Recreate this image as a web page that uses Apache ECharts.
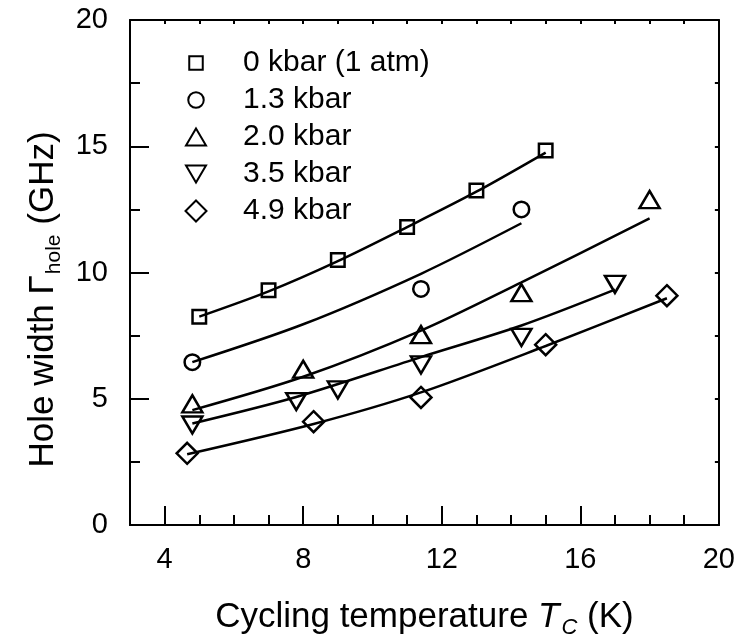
<!DOCTYPE html>
<html>
<head>
<meta charset="utf-8">
<script src="https://cdn.jsdelivr.net/npm/echarts@6/dist/echarts.min.js"></script>
<style>html,body{margin:0;padding:0;background:#fff;}#c{width:738px;height:644px;}</style>
</head>
<body>
<div id="c"></div>
<script>
// ---- data ----
const seriesNames = ['0 kbar (1 atm)', '1.3 kbar', '2.0 kbar', '3.5 kbar', '4.9 kbar'];

const pts0kbar = [[5.0, 8.25], [7.0, 9.3], [9.0, 10.5], [11.0, 11.8], [13.0, 13.25], [15.0, 14.83]];
const pts13kbar = [[4.8, 6.45], [11.4, 9.35], [14.3, 12.5]];
const pts20kbar = [[4.8, 4.8], [8.0, 6.17], [11.4, 7.54], [14.3, 9.2], [18.0, 12.89]];
const pts35kbar = [[4.8, 3.96], [7.8, 4.89], [9.0, 5.35], [11.4, 6.34], [14.3, 7.43], [17.0, 9.53]];
const pts49kbar = [[4.65, 2.84], [8.3, 4.09], [11.4, 5.05], [15.0, 7.14], [18.5, 9.08]];

const fit0kbar = [[5.0, 8.25], [7.0, 9.25], [9.0, 10.45], [11.0, 11.8], [13.0, 13.2], [15.0, 14.75]];
const fit13kbar = [[4.8, 6.45], [8.0, 7.95], [11.4, 9.95], [14.3, 11.95]];
const fit20kbar = [[4.8, 4.55], [8.0, 5.87], [11.4, 7.7], [14.3, 9.61], [18.0, 12.14]];
const fit35kbar = [[4.8, 4.02], [7.8, 5.07], [11.4, 6.65], [14.3, 7.9], [17.0, 9.32]];
const fit49kbar = [[4.65, 2.8], [8.3, 4.0], [11.4, 5.25], [15.0, 7.09], [18.5, 8.98]];

const xMajorTicks = [4, 8, 12, 16, 20];
const xRange = [3, 20];
const yRange = [0, 20];

// ---- styling ----
const FONT = "'Liberation Sans', Arial, sans-serif";
const BLACK = '#000';
const markerDefs = [
  { symbol: 'rect', size: 13.5 },
  { symbol: 'circle', size: 15.5 },
  { symbol: 'triangle', size: [20, 17] },
  { symbol: 'path://M0,0L20,0L10,17Z', size: [20, 17] },
  { symbol: 'diamond', size: [21, 21] }
];
const ptsAll = [pts0kbar, pts13kbar, pts20kbar, pts35kbar, pts49kbar];
const fitAll = [fit0kbar, fit13kbar, fit20kbar, fit35kbar, fit49kbar];
const legendRowCenters = [63, 100, 137, 174, 211];

const series = [];
fitAll.forEach((d, i) => {
  series.push({
    name: seriesNames[i] + ' fit', type: 'line', data: d, smooth: 0.3,
    symbol: 'none', silent: true, z: 2,
    lineStyle: { color: BLACK, width: 2.5 }
  });
});
ptsAll.forEach((d, i) => {
  series.push({
    name: seriesNames[i], type: 'scatter', data: d, z: 3, silent: true,
    symbol: markerDefs[i].symbol, symbolSize: markerDefs[i].size,
    itemStyle: { color: 'rgba(0,0,0,0)', borderColor: BLACK, borderWidth: 2.5, opacity: 1 },
    emphasis: { disabled: true }
  });
});

const legends = seriesNames.map((n, i) => {
  const sz = markerDefs[i].size;
  const w = Array.isArray(sz) ? sz[0] : sz;
  const h = Array.isArray(sz) ? sz[1] : sz;
  return {
    data: [n], orient: 'vertical', padding: 0,
    left: 195 - w / 2, top: legendRowCenters[i] - 16,
    itemWidth: w, itemHeight: h, selectedMode: false,
    textStyle: { fontFamily: FONT, fontSize: 30, lineHeight: 32, color: BLACK,
                 padding: [0, 0, 0, 242 - (195 + w / 2) - 5] }
  };
});

const axLine = { show: true, lineStyle: { color: BLACK, width: 2 } };

const option = {
  backgroundColor: '#fff',
  animation: false,
  grid: { left: 130, right: 18, top: 20, bottom: 117, containLabel: false },
  legend: legends,
  xAxis: [
    {
      type: 'value', position: 'bottom', min: xRange[0], max: xRange[1],
      axisLine: axLine,
      axisTick: { show: true, inside: true, length: 19, customValues: xMajorTicks, lineStyle: { color: BLACK, width: 2 } },
      axisLabel: { customValues: xMajorTicks, fontFamily: FONT, fontSize: 29, color: BLACK, margin: 20 },
      splitLine: { show: false },
      name: '{n|Cycling temperature }{i|T}{s|C}{n| (K)}',
      nameLocation: 'middle', nameGap: 70,
      nameTextStyle: {
        fontFamily: FONT, color: BLACK,
        rich: {
          n: { fontFamily: FONT, fontSize: 35, lineHeight: 44, color: BLACK },
          i: { fontFamily: FONT, fontSize: 35, lineHeight: 44, fontStyle: 'italic', color: BLACK },
          s: { fontFamily: FONT, fontSize: 22, lineHeight: 22, fontStyle: 'italic', color: BLACK, padding: [22, 0, 0, 2] }
        }
      }
    },
    {
      type: 'value', position: 'bottom', min: xRange[0], max: xRange[1], interval: 1,
      axisLine: axLine,
      axisTick: { show: true, inside: true, length: 10, lineStyle: { color: BLACK, width: 2 } },
      axisLabel: { show: false }, splitLine: { show: false }
    },
    {
      type: 'value', position: 'top', min: xRange[0], max: xRange[1], interval: 1,
      axisLine: axLine,
      axisTick: { show: true, inside: true, length: 4, lineStyle: { color: BLACK, width: 2 } },
      axisLabel: { show: false }, splitLine: { show: false }
    }
  ],
  yAxis: [
    {
      type: 'value', position: 'left', min: yRange[0], max: yRange[1], interval: 5,
      axisLine: axLine,
      axisTick: { show: true, inside: true, length: 19, lineStyle: { color: BLACK, width: 2 } },
      minorTick: { show: true, splitNumber: 2, length: 10, lineStyle: { color: BLACK, width: 2 } },
      axisLabel: { fontFamily: FONT, fontSize: 29, color: BLACK, margin: 22 },
      splitLine: { show: false }, minorSplitLine: { show: false },
      name: '{n|Hole width Γ}{s|hole}{n| (GHz)}',
      nameLocation: 'middle', nameGap: 64,
      nameTextStyle: {
        fontFamily: FONT, color: BLACK, padding: [0, 54, 0, 0],
        rich: {
          n: { fontFamily: FONT, fontSize: 35, lineHeight: 44, color: BLACK },
          s: { fontFamily: FONT, fontSize: 21, lineHeight: 22, color: BLACK, padding: [22, 0, 0, 1] }
        }
      }
    },
    {
      type: 'value', position: 'right', min: yRange[0], max: yRange[1], interval: 2.5,
      axisLine: axLine,
      axisTick: { show: true, inside: true, length: 4, lineStyle: { color: BLACK, width: 2 } },
      axisLabel: { show: false }, splitLine: { show: false }
    }
  ],
  series: series
};

const chart = echarts.init(document.getElementById('c'), null, { renderer: 'canvas' });
chart.setOption(option);
</script>
</body>
</html>
